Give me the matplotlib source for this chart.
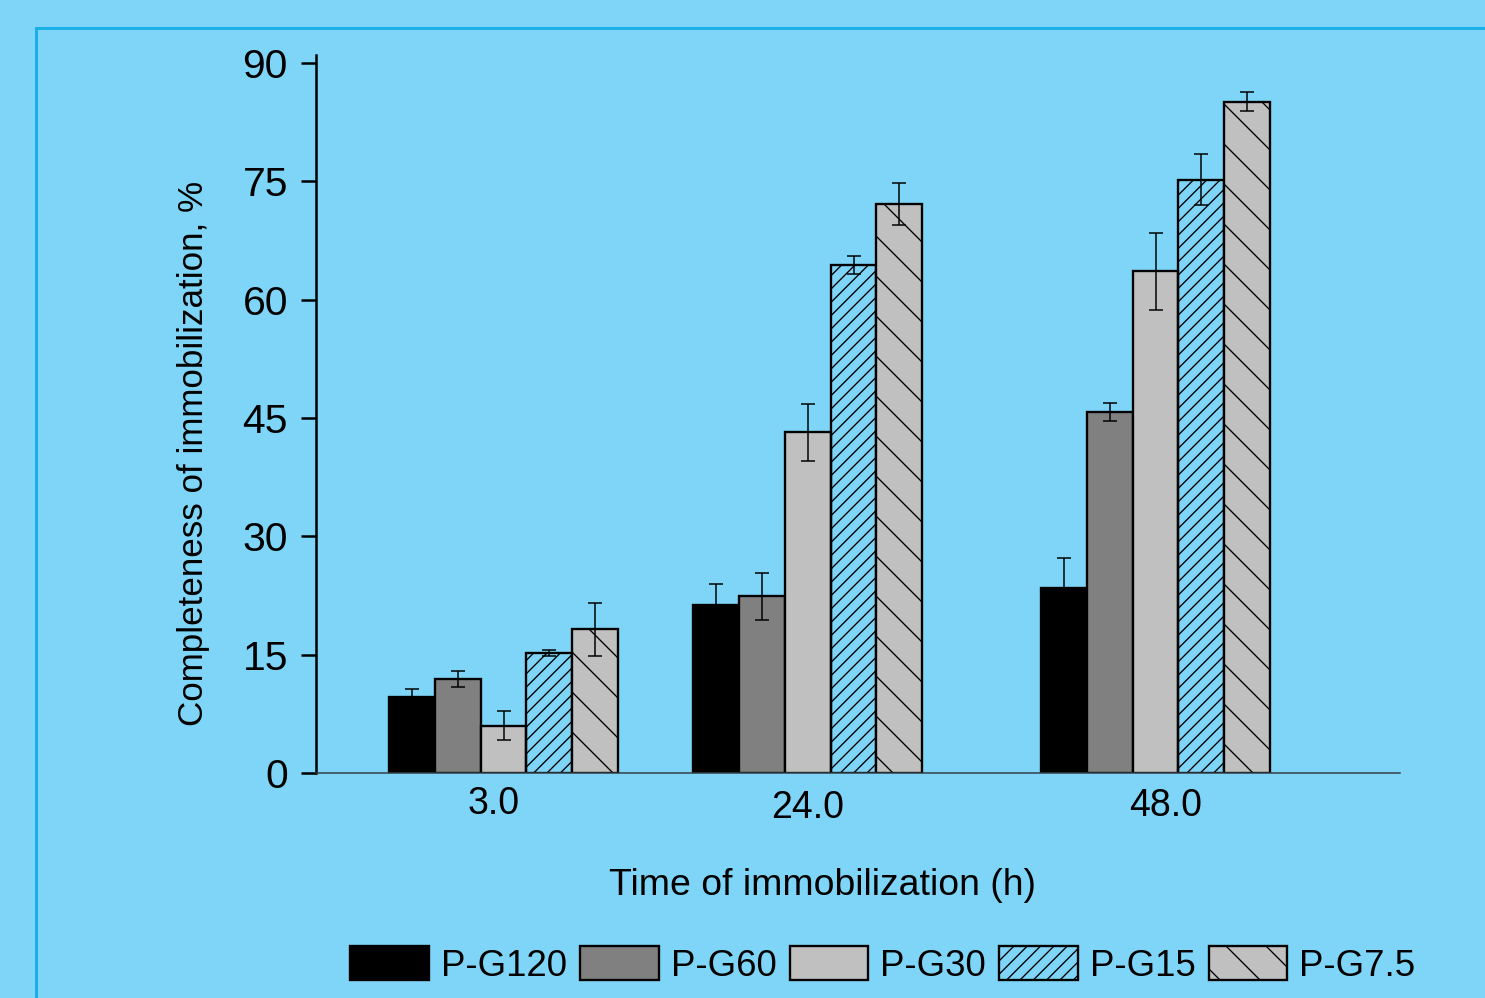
import matplotlib
matplotlib.use("Agg")
import matplotlib.pyplot as plt
import matplotlib.transforms as mtransforms
from matplotlib.patches import Rectangle
import numpy as np

# ---- data ----
times = [3.0, 24.0, 48.0]
time_labels = ["3.0", "24.0", "48.0"]
series = ["P-G120", "P-G60", "P-G30", "P-G15", "P-G7.5"]
pg120 = [9.6, 21.3, 23.5]
pg60 = [11.9, 22.4, 45.8]
pg30 = [6.0, 43.2, 63.6]
pg15 = [15.2, 64.4, 75.2]
pg75 = [18.2, 72.1, 85.1]
err120 = [1.0, 2.7, 3.8]
err60 = [1.0, 3.0, 1.15]
err30 = [1.8, 3.6, 4.9]
err15 = [0.4, 1.1, 3.2]
err75 = [3.4, 2.7, 1.15]
y_ticks = [0, 15, 30, 45, 60, 75, 90]

values = [pg120, pg60, pg30, pg15, pg75]
errors = [err120, err60, err30, err15, err75]

BG = "#7fd5f7"
facecolors = ["#000000", "#808080", "#c0c0c0", "none", "#c0c0c0"]
hatches = [None, None, None, "///", "\\"]

plt.rcParams["font.family"] = ["Liberation Sans", "DejaVu Sans"]
plt.rcParams["hatch.linewidth"] = 0.8

DPI = 120
fig = plt.figure(figsize=(1485 / DPI, 998 / DPI), dpi=DPI, facecolor=BG)

# decorative frame line (left and top)
fig.patches.append(Rectangle((36 / 1485, -0.1), 1.2, 1 - 27.5 / 998 + 0.1,
                             transform=fig.transFigure, fill=False,
                             edgecolor="#19afe8", linewidth=1.8, zorder=0))

ax = fig.add_axes([316 / 1485, 1 - 773 / 998, (1400 - 316) / 1485, (773 - 55) / 998])
ax.set_facecolor(BG)
ax.patch.set_alpha(0)

w = 3.16
x = np.array(times)
handles = []
for i, (name, vals, errs) in enumerate(zip(series, values, errors)):
    pos = x + (i - 2) * w
    b = ax.bar(pos, vals, width=w, color=facecolors[i], edgecolor="black",
               linewidth=1.4, hatch=hatches[i], label=name, zorder=2)
    ax.errorbar(pos, vals, yerr=errs, fmt="none", ecolor="black",
                elinewidth=0.9, capsize=4.2, capthick=0.9, zorder=3)
    handles.append(b)

ax.set_xlim(-9.94, 64.87)
ax.set_ylim(0, 91)
ax.set_yticks(y_ticks)
ax.set_yticklabels([str(t) for t in y_ticks])
ax.set_xticks(times)
ax.set_xticklabels(time_labels)

for s in ["top", "right"]:
    ax.spines[s].set_visible(False)
ax.spines["left"].set_linewidth(1.5)
ax.spines["bottom"].set_linewidth(0.9)
ax.spines["bottom"].set_color("#333c44")

ax.tick_params(axis="y", direction="out", length=9, width=1.5, pad=7.8, labelsize=24.5)
ax.tick_params(axis="x", length=0, pad=7.5, labelsize=22.5)

# small per-label offsets as in reference
offsets = [(-10, 0), (0, -5), (10, -2)]
for lab, (dx, dy) in zip(ax.get_xticklabels(), offsets):
    lab.set_transform(lab.get_transform() +
                      mtransforms.ScaledTranslation(dx / DPI, dy / DPI, fig.dpi_scale_trans))

ax.set_xlabel("Time of immobilization (h)", fontsize=22.4)
ax.xaxis.set_label_coords(0.467, -0.1323)
ax.set_ylabel("Completeness of immobilization, %", fontsize=21)
ax.yaxis.set_label_coords(-0.098, 0.445)

fig.legend(handles=handles, labels=series, loc="center", ncol=5, frameon=False,
           bbox_to_anchor=(883 / 1485, 1 - 965 / 998), fontsize=22,
           handlelength=2.14, handleheight=1.06, handletextpad=0.33,
           columnspacing=0.36, borderpad=0, borderaxespad=0)

fig.savefig("out.png", dpi=DPI, facecolor=BG)
